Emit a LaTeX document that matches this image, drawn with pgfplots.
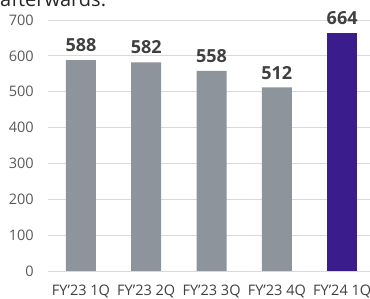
\documentclass[border=0pt]{standalone}
\usepackage{pgfplots}
\pgfplotsset{compat=1.18}
\usepackage{fontspec}
\setmainfont{Open Sans}
\usetikzlibrary{calc}
\definecolor{bargray}{HTML}{8D949B}
\definecolor{barpurple}{HTML}{3A1C8C}
\definecolor{gridc}{HTML}{D9D9D9}
\definecolor{ticktxt}{HTML}{595959}
\definecolor{valtxt}{HTML}{404040}
\begin{document}
\begin{tikzpicture}
\begin{axis}[
  name=ax,
  at={(0,0)}, anchor=south west,
  scale only axis,
  width=326.5pt, height=251pt,
  xmin=-0.5, xmax=4.5,
  ymin=0, ymax=700,
  ytick={0,100,...,700},
  xtick={0,1,2,3,4},
  xticklabels={FY'23 1Q,FY'23 2Q,FY'23 3Q,FY'23 4Q,FY'24 1Q},
  axis line style={draw=none},
  major tick length=0pt,
  ymajorgrids, grid style={gridc, line width=0.8pt},
  /pgf/number format/assume math mode=true,
  yticklabel style={font=\fontsize{14.5}{16}\selectfont, text=ticktxt, xshift=-11pt},
  xticklabel style={font=\fontsize{14.5}{16}\selectfont, text=valtxt, yshift=-10pt},
  ybar, bar width=30pt, bar shift=0pt,
  nodes near coords,
  every node near coord/.append style={font=\bfseries\fontsize{18}{20}\selectfont, text=valtxt, inner sep=0pt, anchor=south, yshift=8pt},
  clip=false,
]
\addplot[fill=bargray, draw=none] coordinates {(0,588) (1,582) (2,558) (3,512)};
\addplot[fill=barpurple, draw=none] coordinates {(4,664)};
\end{axis}
\node[anchor=base west, inner sep=0pt, font=\fontsize{20}{22}\selectfont, text=black!85] at ($(ax.south west)+(-48.3pt,264pt)$) {afterwards.};
\pgfresetboundingbox
\path[use as bounding box] ($(ax.south west)+(-48.3pt,-28pt)$) rectangle ($(ax.south west)+(321.7pt,271pt)$);
\end{tikzpicture}
\end{document}
